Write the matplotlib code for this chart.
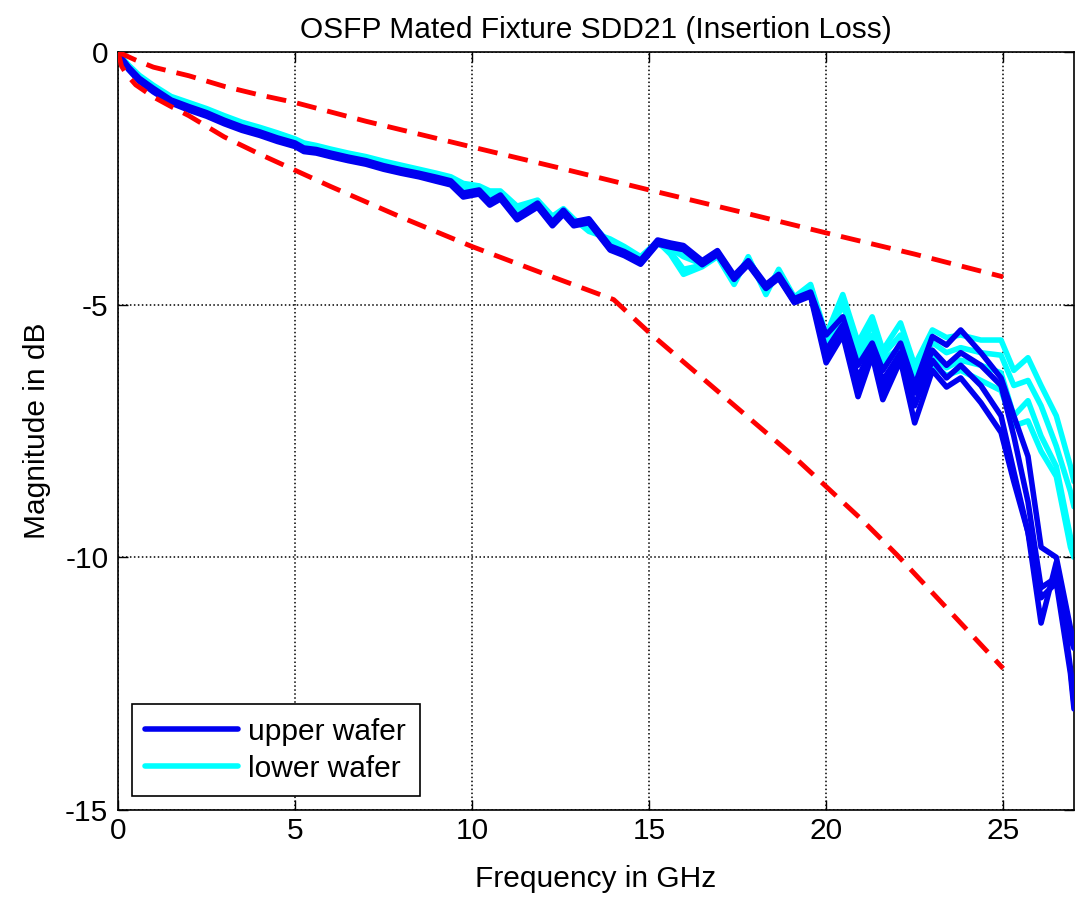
import numpy as np
import matplotlib
matplotlib.use("Agg")
import matplotlib.pyplot as plt

plt.rcParams['font.family'] = ['Liberation Sans', 'DejaVu Sans']
plt.rcParams['axes.unicode_minus'] = False

# ---------------- data ----------------
freq = [0, 0.1, 0.3, 0.6, 1.0, 1.5, 2.0, 2.5, 3.0, 3.5, 4.0, 4.5, 5.0, 5.25, 5.6,
        6.0, 6.5, 7.0, 7.5, 8.0, 8.5, 9.0, 9.4, 9.75, 10.2, 10.5, 10.8, 11.27,
        11.85, 12.27, 12.58, 12.87, 13.3, 13.9, 14.3, 14.76, 15.24, 15.6, 15.97,
        16.5, 16.93, 17.4, 17.8, 18.3, 18.66, 19.1, 19.56, 20.0, 20.47, 20.9,
        21.3, 21.6, 22.1, 22.5, 23.0, 23.4, 23.8, 24.37, 24.94, 25.3, 25.7,
        26.07, 26.5, 26.9, 27.0]

upper_1 = [0, -0.12, -0.30, -0.52, -0.72, -0.95, -1.08, -1.20, -1.35, -1.48, -1.58, -1.70,
           -1.80, -1.90, -1.93, -2.00, -2.08, -2.15, -2.25, -2.33, -2.40, -2.48, -2.55,
           -2.79, -2.73, -2.95, -2.83, -3.25, -2.99, -3.36, -3.13, -3.36, -3.30, -3.84,
           -3.95, -4.12, -3.72, -3.78, -3.83, -4.13, -3.93, -4.42, -4.13, -4.60, -4.40,
           -4.88, -4.75, -5.60, -5.24, -6.20, -5.76, -6.30, -5.76, -6.60, -5.63, -5.80,
           -5.50, -5.95, -6.45, -7.20, -8.00, -9.80, -10.00, -11.40, -11.70]
upper_2 = [0, -0.13, -0.32, -0.54, -0.75, -0.97, -1.11, -1.23, -1.38, -1.51, -1.61, -1.73,
           -1.83, -1.93, -1.96, -2.03, -2.11, -2.18, -2.28, -2.36, -2.43, -2.51, -2.58,
           -2.82, -2.76, -2.98, -2.86, -3.28, -3.02, -3.39, -3.16, -3.39, -3.33, -3.87,
           -3.98, -4.15, -3.75, -3.81, -3.86, -4.16, -3.96, -4.45, -4.16, -4.63, -4.43,
           -4.91, -4.78, -5.90, -5.40, -6.45, -5.85, -6.50, -5.95, -6.75, -5.90, -6.20,
           -5.95, -6.20, -6.60, -7.60, -8.90, -10.60, -10.40, -11.60, -11.80]
upper_3 = [0, -0.14, -0.33, -0.56, -0.77, -0.99, -1.13, -1.25, -1.40, -1.53, -1.63, -1.75,
           -1.85, -1.95, -1.98, -2.05, -2.13, -2.20, -2.30, -2.38, -2.45, -2.54, -2.61,
           -2.85, -2.79, -3.01, -2.89, -3.30, -3.05, -3.42, -3.19, -3.42, -3.36, -3.90,
           -4.01, -4.18, -3.78, -3.84, -3.89, -4.19, -3.99, -4.48, -4.19, -4.66, -4.46,
           -4.94, -4.81, -6.00, -5.50, -6.60, -5.95, -6.70, -6.00, -7.00, -6.10, -6.45,
           -6.20, -6.60, -7.20, -8.30, -9.50, -11.30, -10.10, -12.20, -12.90]
upper_4 = [0, -0.15, -0.35, -0.58, -0.79, -1.01, -1.15, -1.27, -1.42, -1.55, -1.65, -1.77,
           -1.87, -1.97, -2.00, -2.07, -2.15, -2.22, -2.32, -2.40, -2.47, -2.56, -2.63,
           -2.87, -2.81, -3.03, -2.91, -3.32, -3.07, -3.44, -3.21, -3.44, -3.38, -3.92,
           -4.03, -4.20, -3.80, -3.86, -3.91, -4.21, -4.01, -4.50, -4.21, -4.68, -4.48,
           -4.96, -4.83, -6.15, -5.60, -6.82, -6.00, -6.88, -6.10, -7.34, -6.30, -6.63,
           -6.45, -6.94, -7.53, -8.50, -9.50, -10.80, -10.50, -12.30, -13.00]

lower_1 = [0, -0.10, -0.26, -0.46, -0.66, -0.88, -1.00, -1.12, -1.26, -1.39, -1.49, -1.60,
           -1.72, -1.80, -1.85, -1.92, -2.00, -2.07, -2.16, -2.24, -2.32, -2.40, -2.47,
           -2.60, -2.65, -2.75, -2.75, -3.05, -2.93, -3.25, -3.10, -3.30, -3.55, -3.70,
           -3.85, -4.05, -3.75, -4.00, -4.40, -4.25, -4.05, -4.60, -4.05, -4.80, -4.30,
           -4.85, -4.60, -5.60, -4.80, -5.75, -5.24, -5.90, -5.36, -6.20, -5.50, -5.65,
           -5.60, -5.70, -5.70, -6.30, -6.05, -6.60, -7.20, -8.20, -8.50]
lower_2 = [0, -0.11, -0.28, -0.48, -0.69, -0.91, -1.03, -1.15, -1.29, -1.42, -1.52, -1.63,
           -1.75, -1.83, -1.88, -1.95, -2.03, -2.10, -2.19, -2.27, -2.35, -2.43, -2.50,
           -2.64, -2.68, -2.80, -2.78, -3.10, -2.96, -3.30, -3.12, -3.33, -3.45, -3.75,
           -3.88, -4.08, -3.78, -3.95, -4.30, -4.22, -4.02, -4.55, -4.08, -4.75, -4.33,
           -4.88, -4.63, -5.70, -5.00, -5.90, -5.40, -6.00, -5.60, -6.30, -5.75, -5.95,
           -5.85, -5.95, -6.00, -6.60, -6.50, -7.00, -7.80, -8.70, -9.00]
lower_3 = [0, -0.11, -0.29, -0.50, -0.71, -0.93, -1.05, -1.17, -1.31, -1.44, -1.54, -1.65,
           -1.77, -1.86, -1.90, -1.97, -2.05, -2.12, -2.21, -2.29, -2.37, -2.45, -2.52,
           -2.68, -2.70, -2.86, -2.80, -3.15, -2.98, -3.32, -3.14, -3.35, -3.35, -3.80,
           -3.92, -4.10, -3.80, -3.88, -4.05, -4.20, -4.00, -4.50, -4.10, -4.70, -4.36,
           -4.90, -4.66, -5.75, -5.30, -6.00, -5.60, -6.10, -5.85, -6.40, -6.00, -6.25,
           -6.10, -6.20, -6.35, -7.20, -6.90, -7.60, -8.20, -9.60, -9.80]
lower_4 = [0, -0.12, -0.30, -0.51, -0.72, -0.94, -1.06, -1.18, -1.32, -1.45, -1.55, -1.66,
           -1.78, -1.87, -1.91, -1.98, -2.06, -2.13, -2.22, -2.30, -2.38, -2.46, -2.53,
           -2.70, -2.72, -2.88, -2.82, -3.18, -3.00, -3.34, -3.16, -3.37, -3.32, -3.82,
           -3.94, -4.12, -3.78, -3.85, -3.95, -4.18, -3.98, -4.47, -4.12, -4.66, -4.40,
           -4.92, -4.70, -5.80, -5.40, -6.05, -5.70, -6.15, -5.95, -6.55, -6.20, -6.40,
           -6.30, -6.50, -6.70, -7.40, -7.30, -7.90, -8.40, -9.80, -10.00]

limit_hi_f = [0, 0.5, 1, 2, 3, 4, 5, 7, 10, 12.5, 15, 17.5, 20, 22.5, 25]
limit_hi_db = [0, -0.16, -0.30, -0.47, -0.68, -0.85, -1.00, -1.37, -1.88, -2.30, -2.73,
               -3.15, -3.58, -4.00, -4.45]
limit_lo_f = [0, 0.1, 0.25, 0.5, 1, 1.5, 2, 3, 4, 5, 6, 8, 10, 12, 14, 15, 16, 17, 18,
              19, 20, 21, 22, 23, 24, 25]
limit_lo_db = [0, -0.28, -0.45, -0.65, -0.89, -1.08, -1.26, -1.68, -2.02, -2.34, -2.66,
               -3.27, -3.85, -4.38, -4.90, -5.55, -6.15, -6.75, -7.35, -7.95, -8.60,
               -9.25, -9.95, -10.70, -11.45, -12.20]

upper_traces = [upper_1, upper_2, upper_3, upper_4]
lower_traces = [lower_1, lower_2, lower_3, lower_4]
labels = ['upper wafer', 'lower wafer']
title = 'OSFP Mated Fixture SDD21 (Insertion Loss)'
xlabel = 'Frequency in GHz'
ylabel = 'Magnitude in dB'
xticks = [0, 5, 10, 15, 20, 25]
yticks = [-15, -10, -5, 0]

# ---------------- plot ----------------
FS = 21.5
BLUE = '#0000f0'
CYAN = '#00ffff'

fig = plt.figure(figsize=(10.76, 9.02), dpi=100)
ax = fig.add_axes([118 / 1076, 1 - 810 / 902, (1074 - 118) / 1076, (810 - 52) / 902])

for tr in lower_traces:
    hc, = ax.plot(freq, tr, color=CYAN, lw=4, solid_joinstyle='round',
                  solid_capstyle='round', zorder=2)
for tr in upper_traces:
    hb, = ax.plot(freq, tr, color=BLUE, lw=4, solid_joinstyle='round',
                  solid_capstyle='round', zorder=3)

ax.plot(limit_hi_f, limit_hi_db, color='red', lw=3.5, linestyle=(0, (4.1, 2.3)), zorder=4)
ax.plot(limit_lo_f, limit_lo_db, color='red', lw=3.5, linestyle=(0, (4.1, 2.3)), zorder=4)

ax.set_xlim(0, 27)
ax.set_ylim(-15, 0)
ax.set_xticks(xticks)
ax.set_yticks(yticks)
ax.grid(True, color='black', linestyle=(0, (1, 1.6)), linewidth=1.1)
ax.tick_params(direction='in', length=7, width=1, top=True, right=True,
               labelsize=FS, pad=5)
ax.tick_params(axis='y', pad=7)
for s in ax.spines.values():
    s.set_linewidth(1.2)

ax.set_title(title, fontsize=FS, pad=10)
ax.set_xlabel(xlabel, fontsize=FS)
ax.set_ylabel(ylabel, fontsize=FS)
ax.xaxis.set_label_coords(0.5, -0.072)
ax.yaxis.set_label_coords(-0.07, 0.5)

leg = ax.legend([hb, hc], labels, loc='lower left',
                bbox_to_anchor=(0.0146, 0.0185), borderaxespad=0,
                fontsize=FS, fancybox=False, framealpha=1, edgecolor='black',
                handlelength=3.1, handletextpad=0.35, labelspacing=0.3,
                borderpad=0.45)
leg.get_frame().set_linewidth(1.2)

fig.savefig('out.png', dpi=100)
